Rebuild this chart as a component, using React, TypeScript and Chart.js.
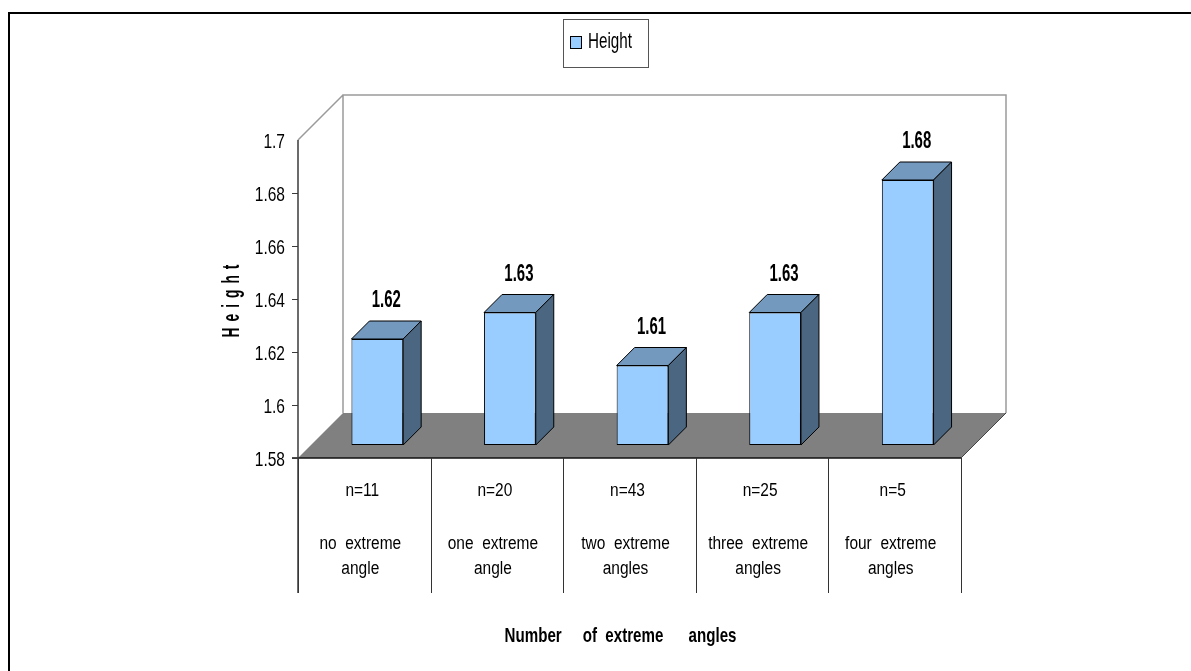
import { useEffect, useRef } from "react";
import { Chart, registerables } from "chart.js";

Chart.register(...registerables);

// ---- data ----
const groupSizes = ["n=11", "n=20", "n=43", "n=25", "n=5"];
const categoryLines = [
  ["no  extreme", "angle"],
  ["one  extreme", "angle"],
  ["two  extreme", "angles"],
  ["three  extreme", "angles"],
  ["four  extreme", "angles"],
];
const heights = [1.62, 1.63, 1.61, 1.63, 1.68];
const seriesLabel = "Height";
const yMin = 1.58;
const yMax = 1.7;
const yStep = 0.02;
const xTitle = "Number     of  extreme      angles";
const yTitle = "Height";

// ---- 3D look ----
const DEPTH = 45; // floor / wall depth in px
const BAR_OFFSET = 13; // bar front plane behind the axis plane
const BAR_DEPTH = 18; // bar thickness
const FONT = '"Liberation Sans", Arial, sans-serif';

function drawText(
  ctx: CanvasRenderingContext2D,
  s: string,
  x: number,
  y: number,
  size: number,
  bold: boolean,
  align: CanvasTextAlign,
  sx: number
) {
  ctx.save();
  ctx.font = `${bold ? "bold " : ""}${size}px ${FONT}`;
  ctx.textAlign = align;
  ctx.textBaseline = "alphabetic";
  ctx.fillStyle = "#000";
  ctx.translate(x, y);
  ctx.scale(sx, 1);
  ctx.fillText(s, 0, 0);
  ctx.restore();
}

const scene3d = {
  id: "scene3d",
  beforeDraw(chart: any) {
    const { ctx, chartArea: a } = chart;
    const xs = chart.scales.x;
    const ys = chart.scales.y;
    const top = ys.getPixelForValue(yMax);
    const bot = ys.getPixelForValue(yMin);
    const L = a.left;
    const R = a.right;
    ctx.save();

    // outer frame
    ctx.fillStyle = "#000";
    ctx.fillRect(8, 12, chart.width, 2);
    ctx.fillRect(8, 12, 2, chart.height);

    // back wall and side wall edge
    ctx.strokeStyle = "#9a9a9a";
    ctx.lineWidth = 1.5;
    ctx.beginPath();
    ctx.moveTo(L + DEPTH, bot - DEPTH);
    ctx.lineTo(L + DEPTH, top - DEPTH);
    ctx.lineTo(R + DEPTH, top - DEPTH);
    ctx.lineTo(R + DEPTH, bot - DEPTH);
    ctx.moveTo(L, top);
    ctx.lineTo(L + DEPTH, top - DEPTH);
    ctx.stroke();

    // floor
    ctx.fillStyle = "#808080";
    ctx.beginPath();
    ctx.moveTo(L, bot);
    ctx.lineTo(L + DEPTH, bot - DEPTH);
    ctx.lineTo(R + DEPTH, bot - DEPTH);
    ctx.lineTo(R, bot);
    ctx.closePath();
    ctx.fill();
    ctx.strokeStyle = "#444";
    ctx.lineWidth = 1;
    ctx.beginPath();
    ctx.moveTo(R, bot);
    ctx.lineTo(R + DEPTH, bot - DEPTH);
    ctx.stroke();

    // front floor edge
    ctx.strokeStyle = "#111";
    ctx.lineWidth = 1.5;
    ctx.beginPath();
    ctx.moveTo(L - 6, bot);
    ctx.lineTo(R, bot);
    ctx.stroke();

    // category separators below the floor
    const cellW = (R - L) / groupSizes.length;
    const sepBottom = bot + 135;
    ctx.strokeStyle = "#333";
    ctx.lineWidth = 1;
    for (let i = 0; i <= groupSizes.length; i++) {
      const px = Math.round(L + i * cellW) + 0.5;
      ctx.beginPath();
      ctx.moveTo(px, bot);
      ctx.lineTo(px, sepBottom);
      ctx.stroke();
    }

    // value axis line
    ctx.strokeStyle = "#3a3a3a";
    ctx.lineWidth = 1.5;
    ctx.beginPath();
    ctx.moveTo(L, top);
    ctx.lineTo(L, sepBottom);
    ctx.stroke();

    // value ticks and labels
    ctx.lineWidth = 1;
    for (const t of ys.ticks) {
      const py = ys.getPixelForValue(t.value);
      if (t.value < yMax - 1e-9) {
        ctx.beginPath();
        ctx.moveTo(L - 6, Math.round(py) + 0.5);
        ctx.lineTo(L, Math.round(py) + 0.5);
        ctx.stroke();
      }
      const lbl = t.label ?? String(t.value);
      drawText(ctx, String(lbl), L - 13, py + 7.5, 21, false, "right", 0.74);
    }

    // category labels
    for (let i = 0; i < groupSizes.length; i++) {
      const cx = xs.getPixelForValue(i);
      drawText(ctx, groupSizes[i], cx - 2, bot + 38, 18, false, "center", 0.86);
      drawText(ctx, categoryLines[i][0], cx - 4, bot + 91, 18, false, "center", 0.86);
      drawText(ctx, categoryLines[i][1], cx - 4, bot + 116, 18, false, "center", 0.86);
    }

    // axis titles
    drawText(ctx, xTitle, (L + R) / 2 - 9, bot + 184, 21, true, "center", 0.72);

    ctx.save();
    ctx.translate(239, (top + bot) / 2 + 2);
    ctx.rotate(-Math.PI / 2);
    ctx.font = `bold 23px ${FONT}`;
    ctx.fillStyle = "#000";
    ctx.textBaseline = "alphabetic";
    ctx.textAlign = "left";
    const sx = 0.6;
    const gap = 6;
    const widths = yTitle.split("").map((c) => ctx.measureText(c).width * sx);
    const total = widths.reduce((p, w) => p + w, 0) + gap * (widths.length - 1);
    let cur = -total / 2;
    yTitle.split("").forEach((c, k) => {
      ctx.save();
      ctx.translate(cur, 0);
      ctx.scale(sx, 1);
      ctx.fillText(c, 0, 0);
      ctx.restore();
      cur += widths[k] + gap;
    });
    ctx.restore();

    ctx.restore();
  },
  beforeDatasetsDraw(chart: any) {
    const { ctx } = chart;
    ctx.save();
    ctx.translate(BAR_OFFSET, -BAR_OFFSET);
    const meta = chart.getDatasetMeta(0);
    ctx.lineWidth = 1;
    ctx.strokeStyle = "#000";
    for (const el of meta.data) {
      const { x, y, base, width } = el.getProps(["x", "y", "base", "width"], true);
      const x1 = x - width / 2;
      const x2 = x + width / 2;
      // top face
      ctx.fillStyle = "#7399bf";
      ctx.beginPath();
      ctx.moveTo(x1, y);
      ctx.lineTo(x1 + BAR_DEPTH, y - BAR_DEPTH);
      ctx.lineTo(x2 + BAR_DEPTH, y - BAR_DEPTH);
      ctx.lineTo(x2, y);
      ctx.closePath();
      ctx.fill();
      ctx.stroke();
      // side face
      ctx.fillStyle = "#4b6680";
      ctx.beginPath();
      ctx.moveTo(x2, y);
      ctx.lineTo(x2 + BAR_DEPTH, y - BAR_DEPTH);
      ctx.lineTo(x2 + BAR_DEPTH, base - BAR_DEPTH);
      ctx.lineTo(x2, base);
      ctx.closePath();
      ctx.fill();
      ctx.stroke();
    }
  },
  afterDatasetsDraw(chart: any) {
    const { ctx } = chart;
    ctx.restore();
    const meta = chart.getDatasetMeta(0);
    const data = chart.data.datasets[0].data as number[];
    meta.data.forEach((el: any, i: number) => {
      const { x, y } = el.getProps(["x", "y"], true);
      drawText(ctx, data[i].toFixed(2), x + BAR_OFFSET + 9, y - 53 + 8, 23, true, "center", 0.65);
    });
  },
  afterDraw(chart: any) {
    const { ctx } = chart;
    const ds = chart.data.datasets[0];
    ctx.save();
    // legend box
    ctx.fillStyle = "#fff";
    ctx.fillRect(563, 19, 85, 48);
    ctx.strokeStyle = "#555";
    ctx.lineWidth = 1;
    ctx.strokeRect(563.5, 19.5, 85, 48);
    ctx.fillStyle = ds.backgroundColor;
    ctx.fillRect(570, 36, 11, 12);
    ctx.strokeStyle = "#000";
    ctx.strokeRect(570.5, 36.5, 11, 12);
    drawText(ctx, ds.label, 588, 48, 22, false, "left", 0.69);
    ctx.restore();
  },
};

export default function App() {
  const ref = useRef<HTMLCanvasElement>(null);

  useEffect(() => {
    const canvas = ref.current;
    if (!canvas) return;
    const chart = new Chart(canvas, {
      type: "bar",
      data: {
        labels: categoryLines.map((l) => l.join(" ")),
        datasets: [
          {
            label: seriesLabel,
            data: heights,
            base: yMin,
            backgroundColor: "#99ccff",
            borderColor: "#000",
            borderWidth: 1,
            borderSkipped: false,
            barPercentage: 0.39,
            categoryPercentage: 1,
            clip: false as any,
          } as any,
        ],
      },
      options: {
        responsive: false,
        animation: false,
        devicePixelRatio: 1,
        layout: { padding: { left: 298, right: 230, top: 140, bottom: 213 } },
        scales: {
          x: { type: "category", display: false, offset: true },
          y: {
            type: "linear",
            display: false,
            min: yMin,
            max: yMax,
            ticks: {
              stepSize: yStep,
              callback: (v: any) => Number(v).toFixed(2).replace(/0$/, ""),
            },
          },
        },
        plugins: {
          legend: { display: false },
          tooltip: { enabled: false },
        },
      },
      plugins: [scene3d],
    });
    return () => chart.destroy();
  }, []);

  return (
    <div style={{ position: "fixed", left: 0, top: 0, width: 1191, height: 671, background: "#fff" }}>
      <canvas ref={ref} width={1191} height={671} style={{ display: "block", width: 1191, height: 671 }} />
    </div>
  );
}
